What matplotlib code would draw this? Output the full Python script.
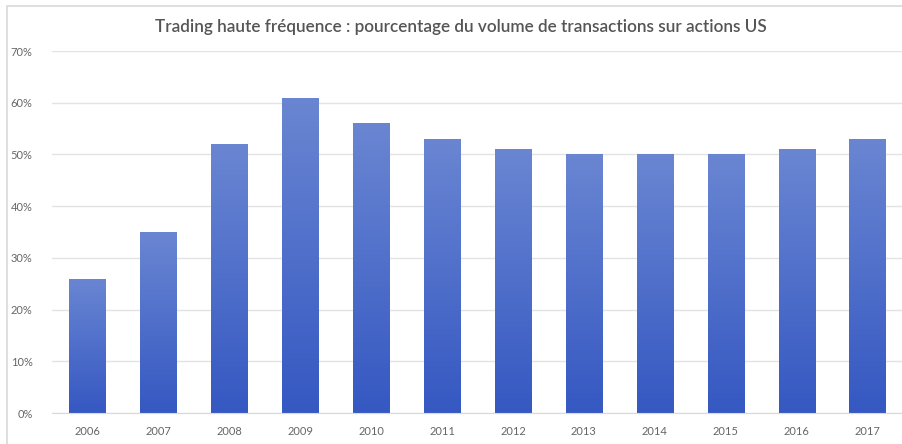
import numpy as np
import matplotlib
matplotlib.use("Agg")
import matplotlib.pyplot as plt
from matplotlib.colors import LinearSegmentedColormap
from matplotlib.patches import Rectangle

# Data
years = ["2006", "2007", "2008", "2009", "2010", "2011",
         "2012", "2013", "2014", "2015", "2016", "2017"]
share = [26, 35, 52, 61, 56, 53, 51, 50, 50, 50, 51, 53]
yticks = [0, 10, 20, 30, 40, 50, 60, 70]

plt.rcParams['font.family'] = ['Lato', 'DejaVu Sans']
text_col = "#666666"

fig = plt.figure(figsize=(9.03, 4.44), dpi=100)
fig.patch.set_facecolor("white")

# light frame around the chart (cropped on the right / bottom)
fig.patches.append(Rectangle((7 / 903, -0.05), 1.05, 0.05 + 438 / 444,
                             transform=fig.transFigure, fill=False,
                             edgecolor="#D9D9D9", linewidth=1.2))

ax = fig.add_axes([52 / 903, 31 / 444, 851 / 903, 362 / 444])
x = np.arange(len(years))
bars = ax.bar(x, share, width=0.51, color="none", zorder=2)

# vertical gradient in each bar: lighter at top, deeper blue at bottom
cmap = LinearSegmentedColormap.from_list("grad", ["#3558c2", "#6a86d2"])
grad = np.linspace(0, 1, 256).reshape(-1, 1)
for b in bars:
    x0, w, h = b.get_x(), b.get_width(), b.get_height()
    im = ax.imshow(grad, cmap=cmap, aspect="auto", origin="lower",
                   extent=[x0, x0 + w, 0, h], zorder=2)
    im.set_clip_path(b)

ax.set_xlim(-0.5, len(years) - 0.5)
ax.set_ylim(0, 70)
ax.set_yticks(yticks)
ax.set_yticklabels([f"{v}%" for v in yticks])
ax.set_xticks(x)
ax.set_xticklabels(years)
ax.tick_params(axis="both", length=0, labelsize=8, labelcolor=text_col)
ax.tick_params(axis="y", pad=14)
ax.tick_params(axis="x", pad=9)
ax.grid(axis="y", color="#E3E3E3", linewidth=1, zorder=0)
ax.set_axisbelow(True)
for s in ax.spines.values():
    s.set_visible(False)
ax.spines["bottom"].set_visible(True)
ax.spines["bottom"].set_color("#D9D9D9")

fig.text(461 / 903, 1 - 27 / 444,
         "Trading haute fréquence : pourcentage du volume de transactions sur actions US",
         ha="center", va="center", fontsize=12.3, fontweight="semibold",
         color="#555555")

fig.savefig("out.png", dpi=100)
